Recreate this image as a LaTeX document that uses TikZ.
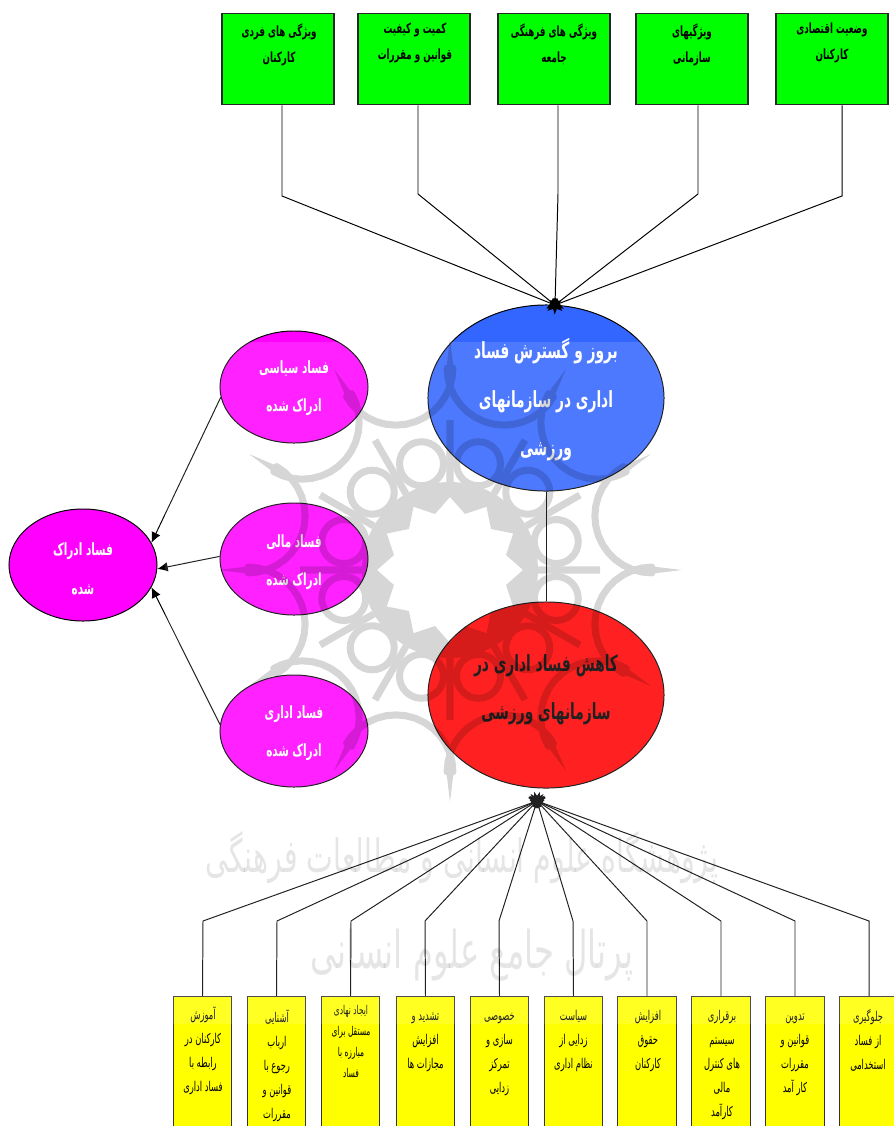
\documentclass[tikz,border=0pt]{standalone}
\usepackage{fontspec}
\usetikzlibrary{arrows.meta,calc,shapes.geometric}
\TeXXeTstate=1
\newfontfamily\arabicfont[Script=Arabic,FakeStretch=0.62]{DejaVu Sans}
\newcommand{\fa}[1]{\beginR #1\endR}
\definecolor{Mag}{HTML}{FF00FF}
\definecolor{Blu}{HTML}{3366FF}
\definecolor{Yel}{HTML}{FFFF00}
\definecolor{Grn}{HTML}{00FF00}
\definecolor{Rd}{HTML}{FF0000}
\tikzset{
	greenbox/.style={draw=black!85, line width=0.9pt, fill=Grn, anchor=north, minimum width=2.8cm, minimum height=2.275cm, inner sep=0pt},
	yellowbox/.style={draw=black!80, line width=0.8pt, fill=Yel, anchor=north, minimum width=1.47cm, minimum height=4cm, inner sep=0pt},
	blob/.style={draw=black, line width=0.7pt, ellipse, inner sep=0pt},
	bigblob/.style={blob, minimum width=5.9cm, minimum height=4.65cm},
	smallblob/.style={blob, fill=Mag, minimum width=3.7cm, minimum height=2.8cm},
	greentxt/.style={anchor=north, align=center, inner sep=0pt, font=\arabicfont\bfseries\fontsize{10}{18.5}\selectfont},
	yellowtxt/.style={anchor=north, align=center, inner sep=0pt, font=\arabicfont\fontsize{9.6}{17}\selectfont},
	bigtxt/.style={align=center, inner sep=0pt, font=\arabicfont\bfseries\fontsize{15.8}{34.5}\selectfont},
	magtxt/.style={align=center, inner sep=0pt, text=white, font=\arabicfont\bfseries\fontsize{12}{27.5}\selectfont},
	arrowline/.style={line width=0.7pt, shorten >=-7pt, -{Latex[length=3.6mm,width=3mm]}},
	tipline/.style={line width=0.7pt, -{Latex[length=2.6mm,width=2.4mm]}},
	wmtxt/.style={inner sep=0pt, text=black, opacity=0.1}
}
\begin{document}
\begin{tikzpicture}[x=0.025cm,y=-0.025cm]
	\useasboundingbox (0,0) rectangle (894,1126);
	\clip (0,0) rectangle (894,1126);
	%%%%% START %%%%%
	\node[greenbox] (boxA) at (278,13) {};
	\node[greenbox] (boxB) at (414,13) {};
	\node[greenbox] (boxC) at (554,13) {};
	\node[greenbox] (boxD) at (692,13) {};
	\node[greenbox] (boxE) at (832,13) {};
	\node[greentxt] (txtA) at (279,23) {\fa{ویژگی های فردی}\\\fa{کارکنان}};
	\node[greentxt] (txtB) at (415,23) {\fa{کمیت و کیفیت}\\\fa{قوانین و مقررات}};
	\node[greentxt] (txtC) at (554,23) {\fa{ویژگی های فرهنگی}\\\fa{جامعه}};
	\node[greentxt] (txtD) at (692,23) {\fa{ویژگیهای}\\\fa{سازمانی}};
	\node[greentxt] (txtE) at (832,23) {\fa{وضعیت اقتصادی}\\\fa{کارکنان}};

	% ellipses
	\node[bigblob, fill=Blu] (blue) at (546,398) {};
	\node[bigblob, fill=Rd] (red) at (546,695) {};
	\node[bigtxt, text=white] (blueTxt) at (546,400) {\fa{بروز و گسترش فساد}\\\fa{اداری در سازمانهای}\\\fa{ورزشی}};
	\node[bigtxt] (redTxt) at (546,690) {\fa{کاهش فساد اداری در}\\\fa{سازمانهای ورزشی}};
	\node[smallblob] (magA) at (294,387) {};
	\node[smallblob] (magB) at (294,559) {};
	\node[smallblob] (magC) at (294,731) {};
	\node[smallblob] (magL) at (83,565) {};
	\node[magtxt] (magATxt) at (294,388) {\fa{فساد سیاسی}\\\fa{ادراک شده}};
	\node[magtxt] (magBTxt) at (294,562) {\fa{فساد مالی}\\\fa{ادراک شده}};
	\node[magtxt] (magCTxt) at (294,733) {\fa{فساد اداری}\\\fa{ادراک شده}};
	\node[magtxt] (magLTxt) at (83,569) {\fa{فساد ادراک}\\\fa{شده}};

	% bottom row
	\node[yellowbox] (ybA) at (202.5,996) {};
	\node[yellowbox] (ybB) at (276.5,996) {};
	\node[yellowbox] (ybC) at (350.5,996) {};
	\node[yellowbox] (ybD) at (425.5,996) {};
	\node[yellowbox] (ybE) at (499.5,996) {};
	\node[yellowbox] (ybF) at (573.5,996) {};
	\node[yellowbox] (ybG) at (647,996) {};
	\node[yellowbox] (ybH) at (721,996) {};
	\node[yellowbox] (ybI) at (795,996) {};
	\node[yellowbox] (ybJ) at (869,996) {};
	\node[yellowtxt] (ytA) at (203,1007) {\fa{آموزش}\\\fa{کارکنان در}\\\fa{رابطه با}\\\fa{فساد اداری}};
	\node[yellowtxt] (ytB) at (277,1010) {\fa{آشنایی}\\\fa{ارباب}\\\fa{رجوع با}\\\fa{قوانین و}\\\fa{مقررات}};
	\node[yellowtxt, font=\arabicfont\fontsize{8.6}{15}\selectfont] (ytC) at (351,1005) {\fa{ایجاد نهادی}\\\fa{مستقل برای}\\\fa{مبارزه با}\\\fa{فساد}};
	\node[yellowtxt] (ytD) at (425.5,1012) {\fa{تشدید و}\\\fa{افزایش}\\\fa{مجازات ها}};
	\node[yellowtxt] (ytE) at (499.5,1013) {\fa{خصوصی}\\\fa{سازی و}\\\fa{تمرکز}\\\fa{زدایی}};
	\node[yellowtxt] (ytF) at (573.5,1010) {\fa{سیاست}\\\fa{زدایی از}\\\fa{نظام اداری}};
	\node[yellowtxt] (ytG) at (648,1010) {\fa{افزایش}\\\fa{حقوق}\\\fa{کارکنان}};
	\node[yellowtxt] (ytH) at (722,1010) {\fa{برقراری}\\\fa{سیستم}\\\fa{های کنترل}\\\fa{مالی}\\\fa{کارآمد}};
	\node[yellowtxt] (ytI) at (795,1014) {\fa{تدوین}\\\fa{قوانین و}\\\fa{مقررات}\\\fa{کار آمد}};
	\node[yellowtxt] (ytJ) at (868,1009) {\fa{جلوگیری}\\\fa{از فساد}\\\fa{استخدامی}};

	% connectors
	\coordinate (blueTip) at (555,305);
	\coordinate (redTip) at (537,801);
	\coordinate (kneeA) at (282,196);
	\coordinate (kneeB) at (418,194);
	\coordinate (kneeC) at (558,194);
	\coordinate (kneeD) at (698,194);
	\coordinate (kneeE) at (842,196);
	\draw[arrowline] (boxA.south -| kneeA) -- (kneeA) -- (blueTip);
	\draw[arrowline] (boxB.south -| kneeB) -- (kneeB) -- (blueTip);
	\draw[arrowline] (boxC.south -| kneeC) -- (kneeC) -- (blueTip);
	\draw[arrowline] (boxD.south -| kneeD) -- (kneeD) -- (blueTip);
	\draw[arrowline] (boxE.south -| kneeE) -- (kneeE) -- (blueTip);
	\draw[line width=0.7pt] (blue.south) -- (red.north);
	\draw[tipline] (magA.188) -- (magL.18);
	\draw[tipline] (magB.178) -- (magL.-3);
	\draw[tipline] (magC.175) -- (magL.-18);
	\foreach \name/\xx in {ybA/203,ybB/277,ybC/351,ybD/425,ybE/499,ybF/573,ybG/647,ybH/721,ybI/795,ybJ/869}{
		\coordinate (k\name) at (\xx,921);
		\draw[arrowline] (\name.north) -- (k\name) -- (redTip);
	}

	% veil and emblem of the page behind
	\fill[white, opacity=0.13] (165,342) rectangle (894,1024);
	\begin{scope}[transparency group, opacity=0.16, shift={(450,570)}]
		\fill[even odd rule] (0,0) circle (88)
			(0:73) \foreach \a in {15,30,...,345}{ -- (\a:{mod(\a,30)==0 ? 73 : 58}) } -- cycle;
		\foreach \a in {0,30,...,330}{
			\draw[line width=5pt] (\a:88) -- (\a:150);
			\draw[line width=5pt] (\a+15:110) circle (22);
			\draw[line width=5pt, line cap=round] plot[domain={\a+120}:{\a+270}, samples=16] ({209*cos(\a+15)+57*cos(\x)},{209*sin(\a+15)+57*sin(\x)});
			\fill ({\a-1.3}:195) -- (\a:232) -- ({\a+1.3}:195) -- cycle;
		}
	\end{scope}
	\node[wmtxt, font=\arabicfont\fontsize{32.6}{32.6}\selectfont] (wmTop) at (462,858) {\fa{پژوهشگاه علوم انسانی و مطالعات فرهنگی}};
	\node[wmtxt, font=\arabicfont\fontsize{37}{37}\selectfont] (wmLow) at (472,955) {\fa{پرتال جامع علوم انسانی}};
	%%%%% END %%%%%
\end{tikzpicture}
\end{document}
